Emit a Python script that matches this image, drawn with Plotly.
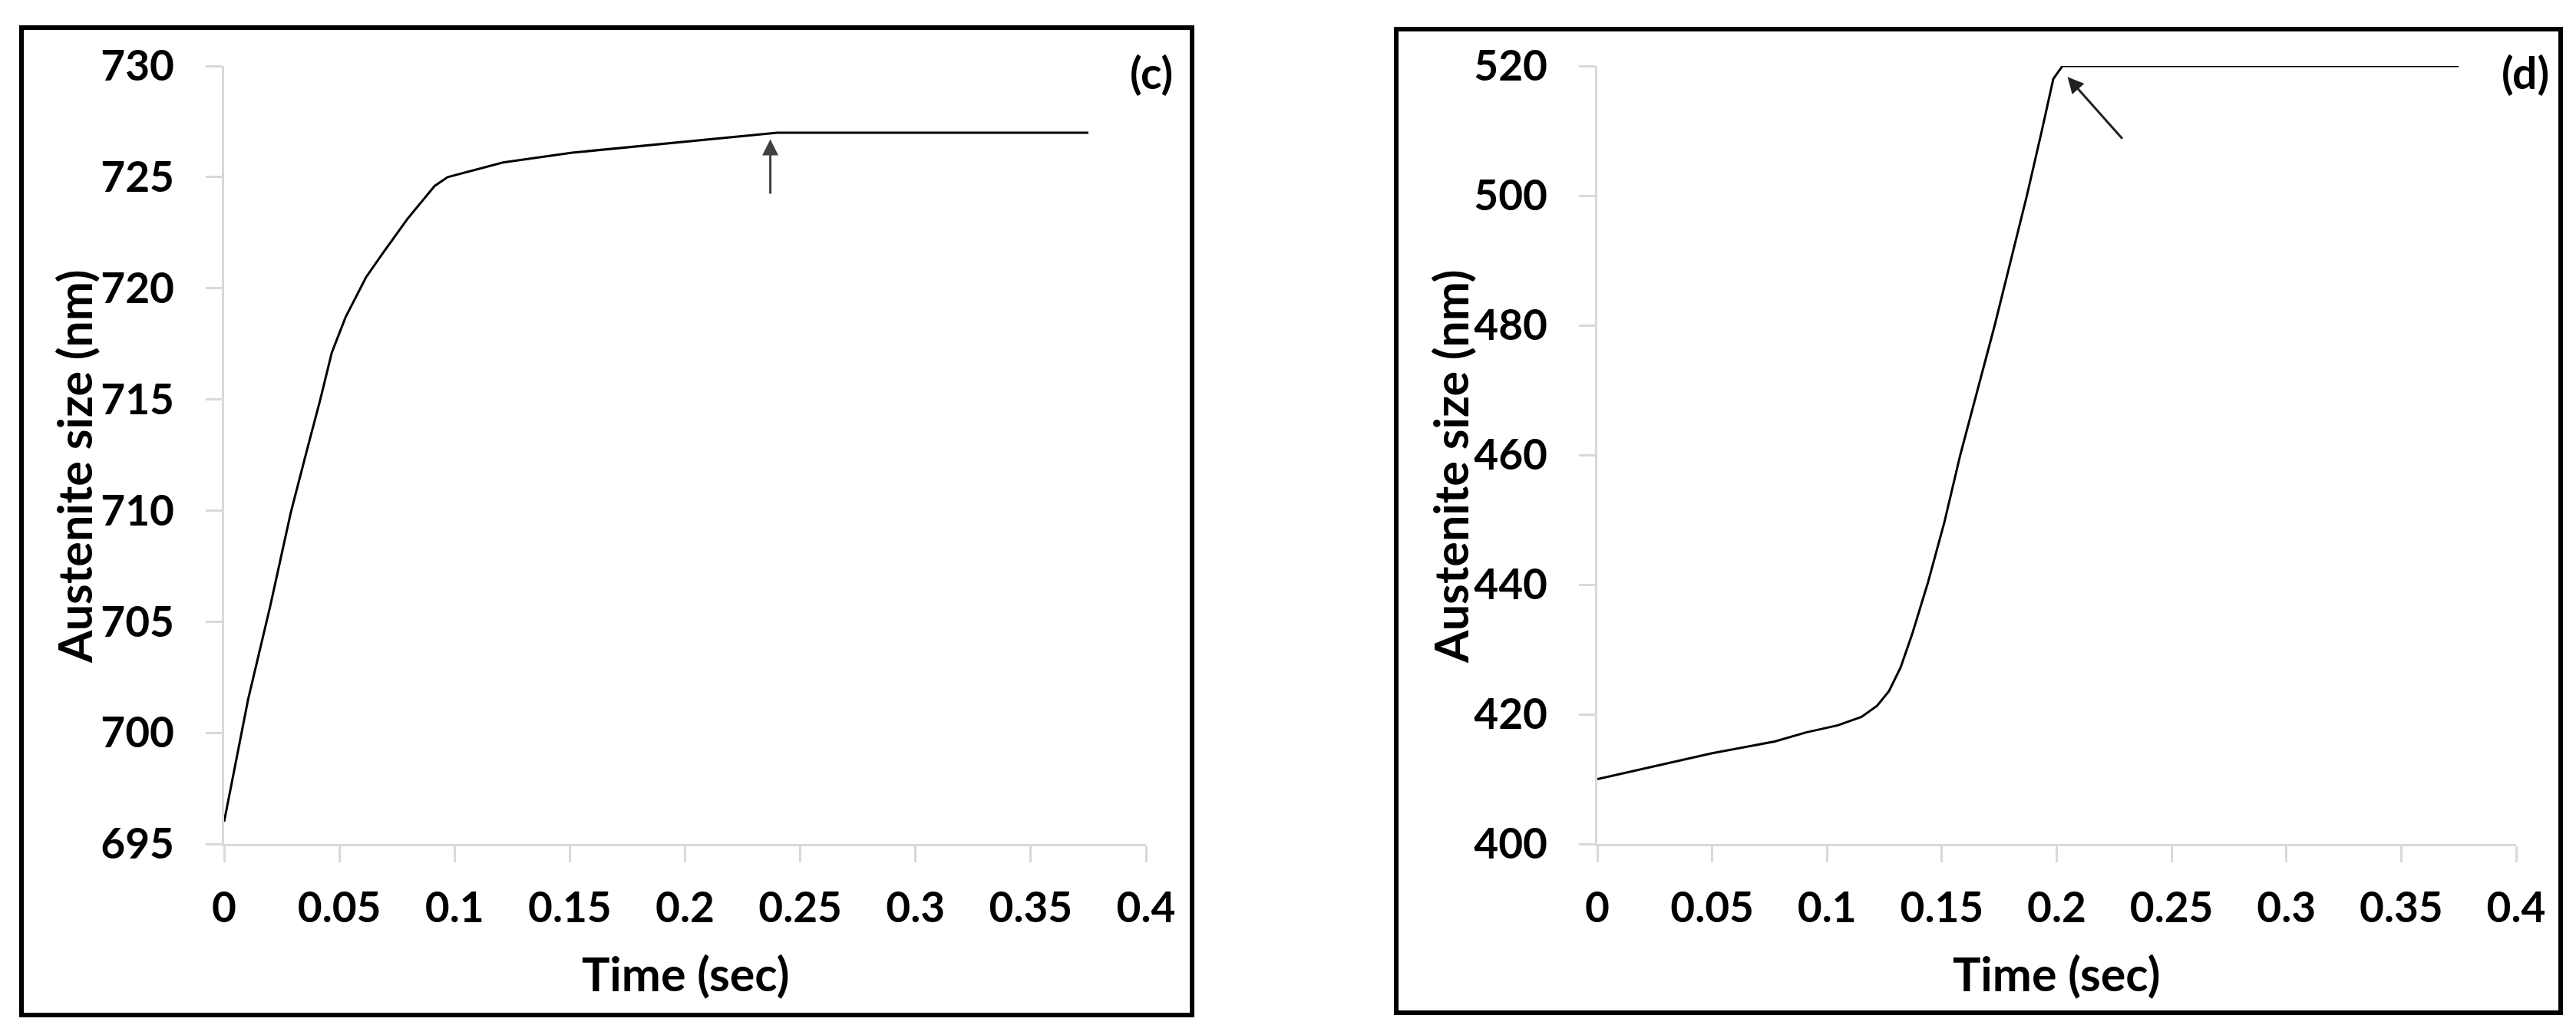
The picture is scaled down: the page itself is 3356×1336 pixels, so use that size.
import plotly.graph_objects as go

# ---- data ----
time_c = [0.0, 0.0104, 0.020, 0.0289, 0.0364, 0.0415, 0.0467, 0.0527, 0.0616, 0.069,
          0.0794, 0.0913, 0.097, 0.121, 0.151, 0.180, 0.205, 0.24, 0.375]
size_c = [696.0, 701.5, 705.7, 709.9, 712.9, 714.9, 717.1, 718.7, 720.5, 721.6,
          723.1, 724.6, 725.0, 725.66, 726.1, 726.4, 726.65, 727.0, 727.0]

time_d = [0.0, 0.05, 0.0772, 0.0909, 0.1047, 0.115, 0.1218, 0.127, 0.132, 0.137,
          0.144, 0.151, 0.158, 0.1655, 0.173, 0.180, 0.187, 0.1935, 0.1985, 0.2025, 0.375]
size_d = [410.0, 414.0, 415.8, 417.2, 418.3, 419.6, 421.3, 423.6, 427.2, 432.3,
          440.4, 449.5, 460.0, 470.0, 480.0, 490.0, 500.0, 510.0, 518.0, 520.0, 520.0]

x_ticks = [0, 0.05, 0.1, 0.15, 0.2, 0.25, 0.3, 0.35, 0.4]
x_ticktext = ["0", "0.05", "0.1", "0.15", "0.2", "0.25", "0.3", "0.35", "0.4"]
y_ticks_c = [695, 700, 705, 710, 715, 720, 725, 730]
y_ticks_d = [400, 420, 440, 460, 480, 500, 520]

arrow_c = {"head": (0.237, 726.7), "tail": (0.237, 724.2)}
arrow_d = {"head": (0.2047, 518.3), "tail": (0.229, 508.6)}

x_title = "Time (sec)"
y_title = "Austenite size (nm)"
panel_labels = ["(c)", "(d)"]

# ---- layout geometry ----
W, H = 3356, 1336
ML, MR, MT, MB = 284, 86, 78, 244
PW = W - ML - MR
PH = H - MT - MB


def px_x(px):
    return (px - ML) / PW


def px_y(py):
    return (H - MB - py) / PH


FONT = "Lato"
fsize = 55
tsize = 61
bold = dict(family=FONT, color="black", weight="bold")

fig = go.Figure()
fig.add_trace(go.Scatter(x=time_c, y=size_c, mode="lines",
                         line=dict(color="black", width=3), xaxis="x", yaxis="y",
                         showlegend=False))
fig.add_trace(go.Scatter(x=time_d, y=size_d, mode="lines",
                         line=dict(color="black", width=3), xaxis="x2", yaxis="y2",
                         showlegend=False))

axis_common = dict(showgrid=False, zeroline=False, showline=True, linecolor="#d9d9d9",
                   linewidth=3, ticks="outside", ticklen=21, tickwidth=3, tickcolor="#d9d9d9",
                   tickfont=dict(bold, size=fsize))

xa = dict(axis_common, range=[0, 0.4], tickvals=x_ticks, ticktext=x_ticktext,
          ticklabelstandoff=12)
fig.update_layout(
    width=W, height=H,
    margin=dict(l=ML, r=MR, t=MT, b=MB, autoexpand=False),
    paper_bgcolor="white", plot_bgcolor="white",
    xaxis=dict(xa, domain=[0, px_x(1485)], anchor="y"),
    xaxis2=dict(xa, domain=[px_x(2073), 1], anchor="y2"),
    yaxis=dict(axis_common, range=[695, 730], tickvals=y_ticks_c, domain=[0, 1],
               anchor="x", ticklabelstandoff=30),
    yaxis2=dict(axis_common, range=[400, 520], tickvals=y_ticks_d, domain=[0, 1],
                anchor="x2", ticklabelstandoff=30),
)

# axis titles
for xc in (885, 2671):
    fig.add_annotation(text=x_title, xref="paper", yref="paper", x=px_x(xc), y=px_y(1260),
                       xanchor="center", yanchor="middle", showarrow=False,
                       font=dict(bold, size=tsize))
for xc in (88, 1881):
    fig.add_annotation(text=y_title, xref="paper", yref="paper", x=px_x(xc), y=px_y(600),
                       xanchor="center", yanchor="middle", showarrow=False, textangle=-90,
                       font=dict(bold, size=tsize))

# panel frames
fig.add_shape(type="rect", xref="paper", yref="paper",
              x0=px_x(20), x1=px_x(1545), y0=px_y(1315), y1=px_y(28),
              line=dict(color="black", width=6), fillcolor="rgba(0,0,0,0)", layer="above")
fig.add_shape(type="rect", xref="paper", yref="paper",
              x0=px_x(1811), x1=px_x(3328), y0=px_y(1312), y1=px_y(30),
              line=dict(color="black", width=6), fillcolor="rgba(0,0,0,0)", layer="above")

# panel labels
fig.add_annotation(text=panel_labels[0], xref="paper", yref="paper", x=px_x(1522), y=px_y(86),
                   xanchor="right", yanchor="middle", showarrow=False, font=dict(bold, size=57))
fig.add_annotation(text=panel_labels[1], xref="paper", yref="paper", x=px_x(3315), y=px_y(86),
                   xanchor="right", yanchor="middle", showarrow=False, font=dict(bold, size=57))

# arrows
fig.add_annotation(x=arrow_c["head"][0], y=arrow_c["head"][1], ax=arrow_c["tail"][0],
                   ay=arrow_c["tail"][1], xref="x", yref="y", axref="x", ayref="y",
                   text="", showarrow=True, arrowhead=2, arrowsize=1.4, arrowwidth=3,
                   arrowcolor="#404040")
fig.add_annotation(x=arrow_d["head"][0], y=arrow_d["head"][1], ax=arrow_d["tail"][0],
                   ay=arrow_d["tail"][1], xref="x2", yref="y2", axref="x2", ayref="y2",
                   text="", showarrow=True, arrowhead=2, arrowsize=1.4, arrowwidth=3,
                   arrowcolor="#202020")

fig.write_html("out.html")
